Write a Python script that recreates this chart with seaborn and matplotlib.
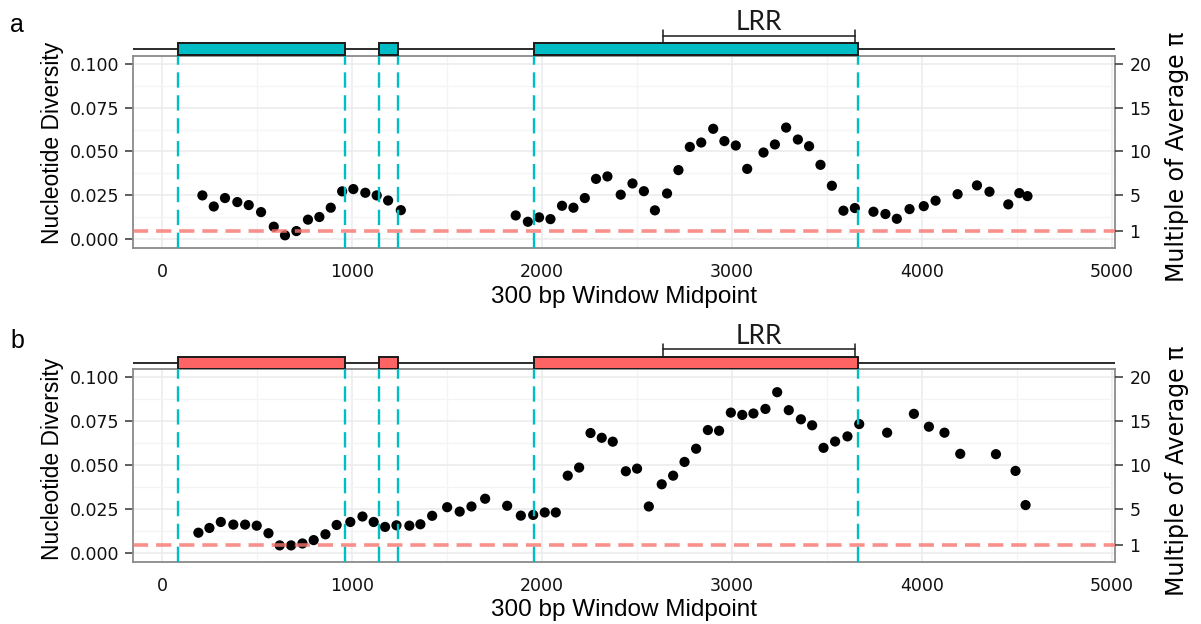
import matplotlib
matplotlib.use("Agg")
import matplotlib.pyplot as plt
from matplotlib.patches import Rectangle
import seaborn as sns
import pandas as pd

# ---------------- data ----------------
a_pos = [211, 271, 330, 395, 455, 520, 587, 646, 706, 767, 827, 887, 947, 1006, 1069, 1129, 1189, 1256,
         1861, 1925, 1984, 2044, 2105, 2165, 2225, 2284, 2344, 2414, 2476, 2536, 2594, 2658, 2718, 2778,
         2838, 2901, 2960, 3020, 3080, 3166, 3226, 3285, 3347, 3406, 3466, 3526, 3587, 3647, 3745, 3808,
         3868, 3935, 4010, 4072, 4188, 4290, 4356, 4455, 4513, 4556]
a_pi = [0.0250, 0.0187, 0.0235, 0.0212, 0.0195, 0.0155, 0.0072, 0.0023, 0.0047, 0.0112, 0.0127, 0.0180,
        0.0273, 0.0286, 0.0265, 0.0250, 0.0221, 0.0166,
        0.0136, 0.0100, 0.0125, 0.0115, 0.0191, 0.0180, 0.0235, 0.0344, 0.0358, 0.0254, 0.0318, 0.0274,
        0.0165, 0.0261, 0.0394, 0.0526, 0.0551, 0.0629, 0.0559, 0.0534, 0.0401, 0.0494, 0.0540, 0.0636,
        0.0568, 0.0530, 0.0424, 0.0305, 0.0163, 0.0178, 0.0157, 0.0144, 0.0117, 0.0172, 0.0189, 0.0220,
        0.0257, 0.0307, 0.0271, 0.0199, 0.0263, 0.0246]

b_pos = [190, 248, 308, 374, 436, 497, 559, 618, 678, 738, 797, 859, 918, 990, 1054, 1113, 1173, 1233,
         1301, 1359, 1421, 1500, 1566, 1628, 1700, 1816, 1888, 1953, 2014, 2072, 2135, 2195, 2255, 2314,
         2372, 2441, 2500, 2562, 2630, 2690, 2750, 2811, 2873, 2932, 2994, 3054, 3113, 3176, 3238, 3299,
         3363, 3422, 3482, 3543, 3608, 3670, 3817, 3958, 4037, 4119, 4202, 4390, 4493, 4546]
b_pi = [0.0117, 0.0144, 0.0178, 0.0163, 0.0163, 0.0157, 0.0114, 0.0045, 0.0045, 0.0056, 0.0075, 0.0108,
        0.0161, 0.0178, 0.0209, 0.0178, 0.0150, 0.0159, 0.0157, 0.0165, 0.0213, 0.0262, 0.0237, 0.0266,
        0.0310, 0.0270, 0.0214, 0.0218, 0.0232, 0.0232, 0.0441, 0.0487, 0.0683, 0.0656, 0.0634, 0.0466,
        0.0481, 0.0266, 0.0392, 0.0441, 0.0519, 0.0594, 0.0700, 0.0696, 0.0799, 0.0786, 0.0794, 0.0820,
        0.0915, 0.0813, 0.0761, 0.0727, 0.0599, 0.0635, 0.0664, 0.0734, 0.0685, 0.0792, 0.0719, 0.0685,
        0.0565, 0.0563, 0.0468, 0.0274]

exon_start = [80, 1143, 1957]
exon_end = [962, 1240, 3666]
lrr_start, lrr_end = 2637, 3647
avg_pi = 0.005

x_ticks = [0, 1000, 2000, 3000, 4000, 5000]
x_minor = [500, 1500, 2500, 3500, 4500]
y_ticks = [0.000, 0.025, 0.050, 0.075, 0.100]
y_tick_labels = ["0.000", "0.025", "0.050", "0.075", "0.100"]
y_minor = [0.0125, 0.0375, 0.0625, 0.0875]
mult_ticks = [1, 5, 10, 15, 20]

panel_labels = ["a", "b"]
panel_colors = ["#00BCC4", "#FF6464"]

# ---------------- style ----------------
sns.set_style("white")
plt.rcParams["font.family"] = ["DejaVu Sans"]
plt.rcParams["text.color"] = "black"

W, H = 1201, 624
fig = plt.figure(figsize=(W / 100, H / 100), dpi=100)

def fx(px):
    return px / W

def fy(py):
    return 1 - py / H

XLIM = (-156, 5017)
YLIM = (-0.0051, 0.1045)
CYAN = "#00BFC4"
SALMON = "#F8766D"

# panel geometry in pixels measured from the top of the figure
panels = [
    dict(top=55.7, bottom=248.3, pos=a_pos, pi=a_pi, lab_y=32, xt_base=303, ylab_y=143, rlab_y=157),
    dict(top=369.3, bottom=562.3, pos=b_pos, pi=b_pi, lab_y=348, xt_base=616, ylab_y=459, rlab_y=471),
]
LEFT, RIGHT = 132.7, 1115.0
TRACK_H = 45.0

for i, p in enumerate(panels):
    ax = fig.add_axes([fx(LEFT), fy(p["bottom"]), fx(RIGHT - LEFT), (p["bottom"] - p["top"]) / H])
    df = pd.DataFrame({"pos": p["pos"], "pi": p["pi"]})
    sns.scatterplot(data=df, x="pos", y="pi", ax=ax, color="black", s=54,
                    edgecolor="none", linewidth=0, zorder=3)
    ax.set_xlim(*XLIM)
    ax.set_ylim(*YLIM)
    ax.set_xlabel("")
    ax.set_ylabel("")
    ax.set_xticks(x_ticks)
    ax.set_xticks(x_minor, minor=True)
    ax.set_yticks(y_ticks)
    ax.set_yticklabels(y_tick_labels)
    ax.set_yticks(y_minor, minor=True)
    ax.grid(which="major", color="#EBEBEB", lw=1.1, zorder=0)
    ax.grid(which="minor", color="#F4F4F4", lw=0.9, zorder=0)
    ax.set_axisbelow(True)
    ax.tick_params(which="minor", length=0)
    ax.tick_params(axis="both", which="major", direction="out", length=5.5, width=1.1,
                   color="#333333", labelsize=12.5, labelcolor="#111111")
    ax.tick_params(axis="x", pad=5)
    ax.tick_params(axis="y", pad=4, left=True)
    for s in ax.spines.values():
        s.set_color("#8A8A8A")
        s.set_linewidth(1.3)

    # boundaries of exons
    for xs in exon_start + exon_end:
        ax.axvline(xs, color=CYAN, lw=1.7, dashes=(6.5, 3.2), zorder=4)
    # average diversity line
    ax.axhline(avg_pi, color=SALMON, lw=2.6, alpha=0.8, dashes=(4.2, 2.2), zorder=5)

    # secondary axis: multiple of average pi
    ax2 = ax.twinx()
    ax2.set_ylim(YLIM[0] / avg_pi, YLIM[1] / avg_pi)
    ax2.set_yticks(mult_ticks)
    ax2.grid(False)
    for s in ax2.spines.values():
        s.set_visible(False)
    ax2.tick_params(axis="y", direction="out", length=5.5, width=1.1, color="#333333",
                    labelsize=12.5, labelcolor="#111111", pad=5, right=True)

    # gene structure track
    tr = fig.add_axes([fx(LEFT), fy(p["top"]), fx(RIGHT - LEFT), TRACK_H / H], sharex=ax)
    tr.set_ylim(0, TRACK_H)
    tr.axis("off")
    tr.plot(XLIM, [6.5, 6.5], color="#1a1a1a", lw=1.3, zorder=1, solid_capstyle="butt")
    for s0, s1 in zip(exon_start, exon_end):
        tr.add_patch(Rectangle((s0, 0.6), s1 - s0, 12.0, facecolor=panel_colors[i],
                               edgecolor="#1a1a1a", lw=1.4, zorder=2))
    tr.plot([lrr_start, lrr_end], [20, 20], color="#1a1a1a", lw=1.1, zorder=2)
    tr.plot([lrr_start, lrr_start], [13.5, 25.5], color="#1a1a1a", lw=1.1, zorder=2)
    tr.plot([lrr_end, lrr_end], [13.5, 25.5], color="#1a1a1a", lw=1.1, zorder=2)
    tr.text((lrr_start + lrr_end) / 2, 33, "LRR", ha="center", va="center",
            fontsize=19, family=["Lato", "DejaVu Sans"], color="#1a1a1a")
    tr.set_xlim(*XLIM)

    # titles
    fig.text(fx(10), fy(p["lab_y"]), panel_labels[i], fontsize=18, va="baseline", ha="left",
             family=["Liberation Sans", "DejaVu Sans"])
    fig.text(fx(52), fy(p["ylab_y"]), "Nucleotide Diversity", rotation=90, ha="center", va="center",
             fontsize=16.5, family=["Liberation Sans", "DejaVu Sans"])
    fig.text(fx(624), fy(p["xt_base"]), "300 bp Window Midpoint", ha="center", va="baseline",
             fontsize=17.5, family=["Liberation Sans", "DejaVu Sans"])
    fig.text(fx(1177), fy(p["rlab_y"]), "Multiple of Average \u03c0", rotation=90, ha="center",
             va="center", fontsize=17, family=["DejaVu Sans"])

fig.savefig("out.png", dpi=100)
